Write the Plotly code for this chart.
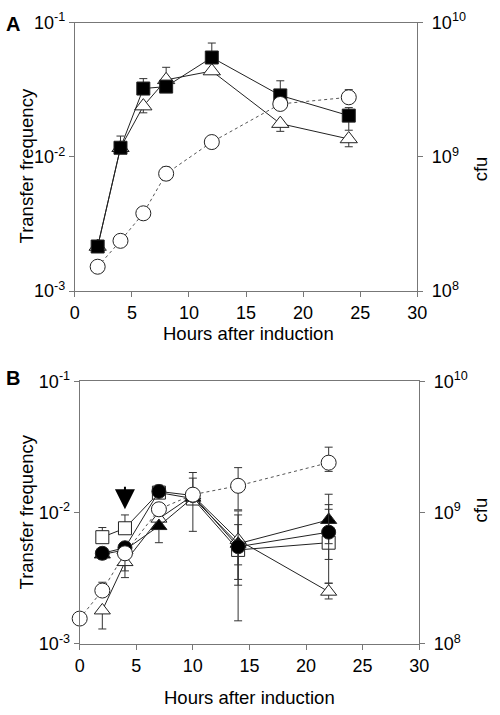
import math
import plotly.graph_objects as go

# ---------------- Panel A data ----------------
a_x = [2, 4, 6, 8, 12, 18, 24]
a_sq = [0.00215, 0.0117, 0.0323, 0.0334, 0.055, 0.0287, 0.0203]
a_sq_up = [0.0002, 0.0026, 0.006, 0.0, 0.0155, 0.0082, 0.003]
a_sq_dn = [0.0, 0.0, 0.0, 0.0, 0.0, 0.0, 0.0045]
a_tri = [0.00215, 0.0117, 0.0239, 0.0375, 0.0436, 0.0177, 0.0136]
a_tri_up = [0.0, 0.0, 0.0, 0.009, 0.0, 0.0, 0.0]
a_tri_dn = [0.0, 0.0, 0.0026, 0.0, 0.0, 0.0022, 0.0017]
a_cfu = [1.52e8, 2.37e8, 3.8e8, 7.5e8, 1.29e9, 2.48e9, 2.78e9]
a_cfu_up = [0, 0, 0, 0.9e8, 0, 0, 3.9e8]
a_cfu_dn = [0, 0, 0, 0.8e8, 0, 0, 0]

# ---------------- Panel B data ----------------
b_x = [2, 4, 7, 10, 14, 22]
b_sq = [0.0065, 0.0076, 0.0142, 0.0128, 0.0052, 0.0059]
b_sq_up = [0.0012, 0.002, 0.002, 0.0055, 0.0029, 0.0047]
b_sq_dn = [0.0, 0.0, 0.0, 0.0, 0.0037, 0.003]
b_fc = [0.0049, 0.0054, 0.0145, 0.0135, 0.0055, 0.0071]
b_fc_up = [0.0005, 0.0004, 0.001, 0.0, 0.0041, 0.0044]
b_fc_dn = [0.0005, 0.0004, 0.0, 0.0063, 0.0027, 0.0027]
b_ft = [0.0048, 0.0052, 0.0079, 0.013, 0.0058, 0.0088]
b_ft_up = [0.0, 0.0, 0.0, 0.0, 0.0, 0.005]
b_ft_dn = [0.0, 0.0, 0.002, 0.0, 0.0018, 0.003]
b_ot = [0.0018, 0.0042, 0.0090, 0.0135, 0.0062, 0.0025]
b_ot_up = [0.0, 0.0, 0.0, 0.0, 0.0041, 0.0004]
b_ot_dn = [0.0005, 0.001, 0.0, 0.0, 0.0031, 0.0003]
b_cx = [0, 2, 4, 7, 10, 14, 22]
b_cfu = [1.56e8, 2.55e8, 4.9e8, 1.06e9, 1.37e9, 1.6e9, 2.4e9]
b_cfu_up = [0, 0.4e8, 0, 0, 6.5e8, 6.0e8, 7.5e8]
b_cfu_dn = [0, 0, 1.3e8, 0, 0, 5.5e8, 3.4e8]

arrow_x = 4
arrow_y = 0.0106

x_ticks = [0, 5, 10, 15, 20, 25, 30]
left_vals = [0.001, 0.01, 0.1]
left_text = ["10<sup>-3</sup>", "10<sup>-2</sup>", "10<sup>-1</sup>"]
right_vals = [1e8, 1e9, 1e10]
right_text = ["10<sup>8</sup>", "10<sup>9</sup>", "10<sup>10</sup>"]

W, H = 500, 715
FONT = "Liberation Sans, Arial, Helvetica, sans-serif"
LINE = "#222222"
AX = "#777777"


def px_x(p):
    return p / W


def px_y(p):
    return 1 - p / H


def err(up, dn):
    return dict(type="data", array=up, arrayminus=dn, symmetric=False,
                color="#333333", thickness=1, width=4)


def series(x, y, up, dn, symbol, fill, xa, ya, dash="solid", size=13, lc=LINE):
    return go.Scatter(
        x=x, y=y, xaxis=xa, yaxis=ya, mode="lines+markers",
        line=dict(color=lc, width=1, dash=dash),
        marker=dict(symbol=symbol, size=size, color=fill,
                    line=dict(color="#222222", width=1)),
        error_y=err(up, dn), showlegend=False, cliponaxis=False)


fig = go.Figure()
# Panel A
fig.add_trace(series(a_x, a_cfu, a_cfu_up, a_cfu_dn, "circle", "white", "x", "y2", dash="dot", size=15, lc="#555555"))
fig.add_trace(series(a_x, a_tri, a_tri_up, a_tri_dn, "triangle-up", "white", "x", "y", size=15))
fig.add_trace(series(a_x, a_sq, a_sq_up, a_sq_dn, "square", "black", "x", "y", size=13))
# Panel B
fig.add_trace(series(b_x, b_sq, b_sq_up, b_sq_dn, "square", "white", "x2", "y3", size=13))
fig.add_trace(series(b_x, b_ot, b_ot_up, b_ot_dn, "triangle-up", "white", "x2", "y3", size=14))
fig.add_trace(series(b_x, b_ft, b_ft_up, b_ft_dn, "triangle-up", "black", "x2", "y3", size=14))
fig.add_trace(series(b_x, b_fc, b_fc_up, b_fc_dn, "circle", "black", "x2", "y3", size=14))
fig.add_trace(series(b_cx, b_cfu, b_cfu_up, b_cfu_dn, "circle", "white", "x2", "y4", dash="dot", size=15, lc="#555555"))

tickfont = dict(family=FONT, size=18, color="black")


def xaxis(dom, anchor):
    return dict(domain=dom, anchor=anchor, range=[0, 30], tickvals=x_ticks,
                ticks="outside", ticklen=5, tickcolor=AX, showline=True,
                linecolor=AX, linewidth=1, mirror=True, showgrid=False,
                zeroline=False, tickfont=tickfont, fixedrange=True)


def yleft(dom, anchor):
    return dict(domain=dom, anchor=anchor, type="log", range=[-3, -1],
                tickvals=left_vals, ticktext=left_text, ticks="outside",
                ticklen=5, tickcolor=AX, showline=True, linecolor=AX,
                showgrid=False, zeroline=False, tickfont=tickfont)


def yright(over, anchor):
    return dict(overlaying=over, anchor=anchor, side="right", type="log",
                range=[8, 10], tickvals=right_vals, ticktext=right_text,
                ticks="outside", ticklen=5, tickcolor=AX, showline=True,
                linecolor=AX, showgrid=False, zeroline=False, tickfont=tickfont,
                ticklabelstandoff=5)


A_top, A_bot = 11, 288
B_top, B_bot = 381, 652
fig.update_layout(
    width=W, height=H, margin=dict(l=0, r=0, t=0, b=0),
    paper_bgcolor="white", plot_bgcolor="white",
    font=dict(family=FONT, color="black"),
    xaxis=xaxis([px_x(72), px_x(425)], "y"),
    yaxis=yleft([px_y(A_bot), px_y(A_top)], "x"),
    yaxis2=yright("y", "x"),
    xaxis2=xaxis([px_x(77), px_x(427)], "y3"),
    yaxis3=yleft([px_y(B_bot), px_y(B_top)], "x2"),
    yaxis4=yright("y3", "x2"),
)

ann = []


def txt(text, x, y, size=18.5, angle=0, bold=False, xanchor="center"):
    ann.append(dict(text=("<b>%s</b>" % text) if bold else text,
                    x=px_x(x), y=px_y(y), xref="paper", yref="paper",
                    showarrow=False, textangle=angle,
                    font=dict(family=FONT, size=size, color="black"),
                    xanchor=xanchor, yanchor="middle"))


txt("A", 8, 12, size=20, bold=True)
txt("B", 8, 378, size=20, bold=True)
txt("Hours after induction", 251, 332)
txt("Hours after induction", 252, 707)
txt("Transfer frequency", 22, 159, angle=-90)
txt("Transfer frequency", 22, 516, angle=-90)
txt("cfu", 490, 162, angle=-90)
txt("cfu", 490, 514, angle=-90)

ann.append(dict(x=arrow_x, y=math.log10(arrow_y), xref="x2", yref="y3",
                showarrow=True, ax=0, ay=-24, arrowhead=2, arrowsize=2,
                arrowwidth=2, arrowcolor="black", text=""))
fig.update_layout(annotations=ann)

fig.write_html("out.html", config={"displayModeBar": False},
               post_script="document.body.style.margin='0';document.body.style.overflow='hidden';")
